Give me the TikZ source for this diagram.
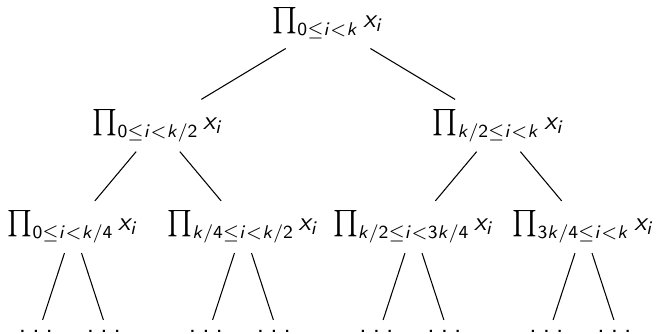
\documentclass[tikz,border=0pt]{standalone}
\DeclareSymbolFont{sfop}{OT1}{cmss}{m}{n}
\DeclareSymbolFont{sfit}{OT1}{cmss}{m}{sl}
\DeclareMathSymbol{0}{\mathalpha}{sfop}{`0}
\DeclareMathSymbol{2}{\mathalpha}{sfop}{`2}
\DeclareMathSymbol{3}{\mathalpha}{sfop}{`3}
\DeclareMathSymbol{4}{\mathalpha}{sfop}{`4}
\DeclareMathSymbol{/}{\mathord}{sfop}{`/}
\DeclareMathSymbol{x}{\mathalpha}{sfit}{`x}
\DeclareMathSymbol{i}{\mathalpha}{sfit}{`i}
\DeclareMathSymbol{k}{\mathalpha}{sfit}{`k}
\newcommand\sdots{\textsf{.\kern2.3pt.\kern2.3pt.\kern2.3pt}}
\begin{document}
\begin{tikzpicture}[x=0.38pt,y=-0.38pt,
  prodnode/.style={inner sep=3.6pt},
  dotnode/.style={inner sep=3.6pt},
  edge/.style={draw=black,line width=0.4pt}]
\useasboundingbox (0,0) rectangle (656,333);
\node[prodnode] (r) at (328,23) {$\prod_{0\le i<k} x_i$};
\node[prodnode] (a) at (158,125.5) {$\prod_{0\le i<k/2} x_i$};
\node[prodnode] (b) at (498.5,125.5) {$\prod_{k/2\le i<k} x_i$};
\node[prodnode] (a1) at (73,227) {$\prod_{0\le i<k/4} x_i$};
\node[prodnode] (a2) at (243,227) {$\prod_{k/4\le i<k/2} x_i$};
\node[prodnode] (b1) at (413.5,227) {$\prod_{k/2\le i<3k/4} x_i$};
\node[prodnode] (b2) at (583.5,227) {$\prod_{3k/4\le i<k} x_i$};
\foreach \p in {a1,a2,b1,b2}{
  \node[dotnode] (\p l) at ([xshift=-34*0.38pt,yshift=-104*0.38pt]\p.center) {\sdots};
  \node[dotnode] (\p r) at ([xshift=34*0.38pt,yshift=-104*0.38pt]\p.center) {\sdots};
  \draw[edge] (\p) -- (\p l);
  \draw[edge] (\p) -- (\p r);
}
\draw[edge] (r) -- (a);
\draw[edge] (r) -- (b);
\draw[edge] (a) -- (a1);
\draw[edge] (a) -- (a2);
\draw[edge] (b) -- (b1);
\draw[edge] (b) -- (b2);
\end{tikzpicture}
\end{document}
